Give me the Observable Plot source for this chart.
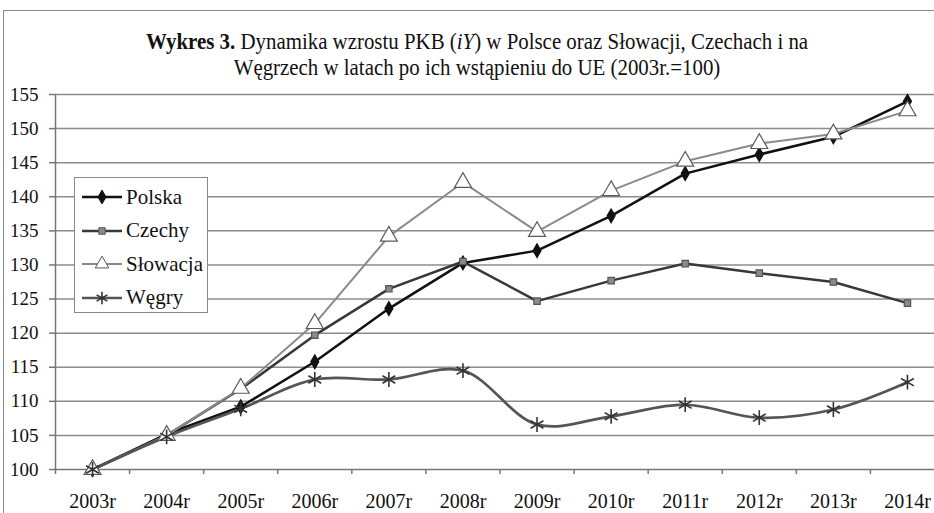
<!DOCTYPE html>
<html>
<head>
<meta charset="utf-8">
<script src="https://cdn.jsdelivr.net/npm/d3@7"></script>
<script src="https://cdn.jsdelivr.net/npm/@observablehq/plot@0.6"></script>
<style>
  html, body { margin: 0; padding: 0; background: #fff; overflow: hidden; width: 934px; height: 513px; }
  body { position: relative; font-family: "Liberation Serif", "Times New Roman", serif; }
  #frame { position: absolute; left: 3px; top: 10px; width: 1000px; height: 600px; border: 1.5px solid #8a8a8a; box-sizing: border-box; }
  #title { position: absolute; left: 10px; width: 934px; top: 28px; text-align: center; font-family: "Liberation Serif", serif; font-size: 24px; line-height: 26px; color: #111; transform: scaleX(0.87); transform-origin: 467px 0; }
  #chart { position: absolute; left: 0; top: 80px; width: 960px; }
  #chart svg { max-width: none !important; }
  #legend { position: absolute; left: 74px; top: 177px; width: 134px; height: 136px; box-sizing: border-box; border: 1.5px solid #8a8a8a; background: #fff; }
  .item { position: absolute; left: 6px; height: 30px; display: flex; align-items: center; font-family: "Liberation Serif", serif; font-size: 21px; color: #111; }
  .item svg { margin-right: 3px; }
</style>
</head>
<body>
<div id="frame"></div>
<div id="title"><b>Wykres 3.</b> Dynamika wzrostu PKB (<i>iY</i>) w Polsce oraz Słowacji, Czechach i na<br>Węgrzech w latach po ich wstąpieniu do UE (2003r.=100)</div>
<div id="chart"></div>
<div id="legend"></div>
<script>
const years = [2003, 2004, 2005, 2006, 2007, 2008, 2009, 2010, 2011, 2012, 2013, 2014];
const yearLabels = ["2003r", "2004r", "2005r", "2006r", "2007r", "2008r", "2009r", "2010r", "2011r", "2012r", "2013r", "2014r"];
const polska   = [100, 105.2, 109.2, 115.8, 123.6, 130.3, 132.1, 137.2, 143.4, 146.2, 148.8, 154.0];
const czechy   = [100, 105.0, 111.8, 119.7, 126.5, 130.5, 124.7, 127.7, 130.2, 128.8, 127.5, 124.4];
const slowacja = [100, 105.0, 111.9, 121.4, 134.2, 142.1, 134.9, 140.9, 145.2, 147.8, 149.2, 152.6];
const wegry    = [100, 104.8, 108.9, 113.2, 113.2, 114.5, 106.6, 107.8, 109.5, 107.6, 108.8, 112.8];
const yTicks = [100, 105, 110, 115, 120, 125, 130, 135, 140, 145, 150, 155];

const series = [
  {name: "Polska", values: polska, stroke: "#111", width: 2.5, curve: "linear", symbol: "diamond", r: 4.2, fill: "#111", mstroke: "#111"},
  {name: "Czechy", values: czechy, stroke: "#383838", width: 2.5, curve: "linear", symbol: "square", r: 3.6, fill: "#8a8a8a", mstroke: "#555"},
  {name: "Słowacja", values: slowacja, stroke: "#8a8a8a", width: 2, curve: "linear", symbol: "triangle", r: 6.3, fill: "#fff", mstroke: "#5a5a5a"},
  {name: "Węgry", values: wegry, stroke: "#555", width: 2.7, curve: "catmull-rom", symbol: "asterisk", r: 7, fill: "none", mstroke: "#333"}
];

const rows = s => years.map((y, i) => ({year: y, value: s.values[i]}));
const bounds = years.map(y => y - 0.5);

const marks = [
  Plot.ruleY(yTicks.slice(1), {y: d => d, stroke: "#8c8c8c", strokeWidth: 1.5}),
  Plot.ruleY([100], {y: d => d, stroke: "#777", strokeWidth: 1.5}),
  Plot.ruleX([years[0] - 0.5], {x: d => d, y1: 100, y2: 155, stroke: "#777", strokeWidth: 1.5}),
  Plot.axisY({ticks: yTicks, label: null, tickSize: 6, tickPadding: 11, fontSize: 19, stroke: "#777", fill: "#111", strokeWidth: 1.5}),
  Plot.axisX({ticks: bounds, label: null, tickSize: 5, tickFormat: () => "", stroke: "#777", strokeWidth: 1.5}),
  Plot.axisX({ticks: years, label: null, tickSize: 0, tickPadding: 24, fontSize: 20, fill: "#111", tickFormat: d => yearLabels[years.indexOf(d)]})
];
for (const s of series) {
  marks.push(Plot.line(rows(s), {x: "year", y: "value", stroke: s.stroke, strokeWidth: s.width, curve: s.curve}));
}
for (const s of series) {
  marks.push(Plot.dot(rows(s), {x: "year", y: "value", symbol: () => s.symbol, r: s.r, fill: s.fill, stroke: s.mstroke, strokeWidth: s.symbol === "asterisk" ? 1.6 : 1.2}));
}

const chart = Plot.plot({
  width: 960,
  height: 440,
  marginLeft: 55,
  marginRight: 16,
  marginTop: 14,
  marginBottom: 51,
  style: {fontFamily: "'Liberation Serif', 'Times New Roman', serif", background: "transparent", overflow: "visible", maxWidth: "none"},
  x: {type: "linear", domain: [2002.5, 2014.5], axis: null, label: null},
  y: {domain: [100, 155], axis: null, label: null},
  symbol: {type: "identity"},
  marks
});
document.getElementById("chart").appendChild(chart);

// legend
const legend = document.getElementById("legend");
const symPath = {
  diamond: d3.symbol(d3.symbolDiamond, 55)(),
  square: d3.symbol(d3.symbolSquare, 42)(),
  triangle: d3.symbol(d3.symbolTriangle, 80)(),
  asterisk: d3.symbol(d3.symbolAsterisk, 110)()
};
series.forEach((s, i) => {
  const div = document.createElement("div");
  div.className = "item";
  div.style.top = (4 + i * 33.5) + "px";
  const svg = d3.create("svg").attr("width", 42).attr("height", 20);
  svg.append("line").attr("x1", 1).attr("x2", 41).attr("y1", 10).attr("y2", 10).attr("stroke", s.stroke).attr("stroke-width", s.width);
  svg.append("path").attr("d", symPath[s.symbol]).attr("transform", "translate(21,10)")
    .attr("fill", s.fill).attr("stroke", s.mstroke).attr("stroke-width", s.symbol === "asterisk" ? 1.6 : 1);
  div.appendChild(svg.node());
  const span = document.createElement("span");
  span.textContent = s.name;
  div.appendChild(span);
  legend.appendChild(div);
});
</script>
</body>
</html>
